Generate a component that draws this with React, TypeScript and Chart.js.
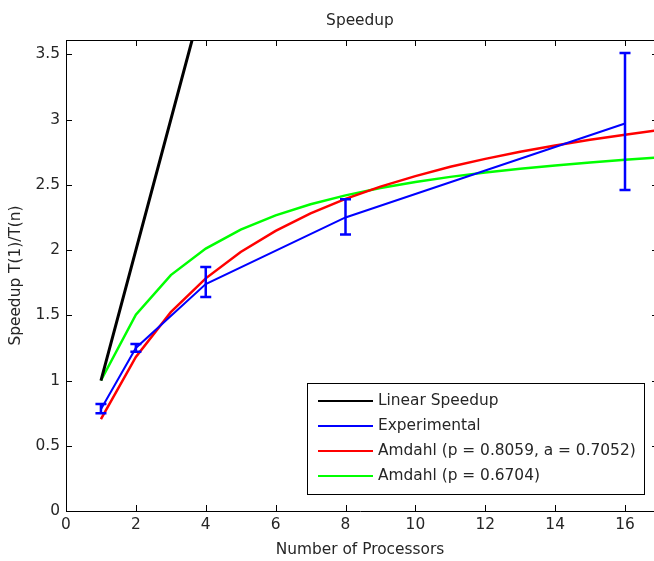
import React, { useEffect, useRef } from "react";
import { Chart, registerables } from "chart.js";

Chart.register(...registerables);

// ---- data ----
const processors = [1, 2, 4, 8, 16];
const linearSpeedup = [1, 2, 4, 8, 16];
const experimental = [0.78, 1.25, 1.74, 2.25, 2.97];
const errLow = [0.75, 1.22, 1.64, 2.12, 2.46];
const errHigh = [0.82, 1.28, 1.87, 2.39, 3.51];

const nRange = [1, 2, 3, 4, 5, 6, 7, 8, 9, 10, 11, 12, 13, 14, 15, 16, 17];
const amdahlFit = [0.705, 1.181, 1.524, 1.783, 1.985, 2.147, 2.281, 2.392, 2.486, 2.567, 2.638, 2.699, 2.754, 2.802, 2.846, 2.884, 2.92];
const amdahlP = [1.0, 1.504, 1.808, 2.011, 2.157, 2.266, 2.351, 2.419, 2.475, 2.521, 2.561, 2.594, 2.624, 2.649, 2.672, 2.692, 2.71];

const seriesLabels = [
  "Linear Speedup",
  "Experimental",
  "Amdahl (p = 0.8059, a = 0.7052)",
  "Amdahl (p = 0.6704)",
];
const seriesColors = ["#000000", "#0000ff", "#ff0000", "#00ff00"];

const xTickValues = [0, 2, 4, 6, 8, 10, 12, 14, 16];
const xTickLabels = ["0", "2", "4", "6", "8", "10", "12", "14", "16"];
const yTickValues = [0, 0.5, 1, 1.5, 2, 2.5, 3, 3.5];
const yTickLabels = ["0", "0.5", "1", "1.5", "2", "2.5", "3", "3.5"];
const xMin = 0;
const xMax = 16.83;
const yMin = 0;
const yMax = 3.61;

const titleText = "Speedup";
const xTitle = "Number of Processors";
const yTitle = "Speedup T(1)/T(n)";

const FONT = '"DejaVu Sans", sans-serif';
const FS = 15.4;
const TEXT_COLOR = "#262626";

const toPoints = (xs: number[], ys: number[]) => xs.map((x, i) => ({ x, y: ys[i] }));
const labelFor = (vals: number[], labs: string[]) => (v: any) => {
  const i = vals.findIndex((t) => Math.abs(t - Number(v)) < 1e-9);
  return i >= 0 ? labs[i] : "";
};

const decorPlugin = {
  id: "matlabDecor",
  afterDatasetsDraw(chart: any) {
    const { ctx, scales } = chart;
    const xs = scales.x;
    const ys = scales.y;
    ctx.save();
    // error bars
    ctx.strokeStyle = seriesColors[1];
    ctx.lineWidth = 2.5;
    ctx.lineCap = "butt";
    processors.forEach((p, i) => {
      const px = xs.getPixelForValue(p);
      const pl = ys.getPixelForValue(errLow[i]);
      const ph = ys.getPixelForValue(errHigh[i]);
      const cap = 5.5;
      ctx.beginPath();
      ctx.moveTo(px, pl);
      ctx.lineTo(px, ph);
      ctx.moveTo(px - cap, pl);
      ctx.lineTo(px + cap, pl);
      ctx.moveTo(px - cap, ph);
      ctx.lineTo(px + cap, ph);
      ctx.stroke();
    });
    ctx.restore();
  },
  afterDraw(chart: any) {
    const { ctx, chartArea, scales } = chart;
    const xs = scales.x;
    const ys = scales.y;
    const { left, right, top, bottom } = chartArea;
    ctx.save();
    // top border
    ctx.strokeStyle = "#000";
    ctx.lineWidth = 1;
    ctx.beginPath();
    ctx.moveTo(left, Math.round(top) + 0.5);
    ctx.lineTo(right, Math.round(top) + 0.5);
    ctx.stroke();
    // inward ticks
    const tl = 6;
    ctx.beginPath();
    yTickValues.forEach((v) => {
      const py = Math.round(ys.getPixelForValue(v)) + 0.5;
      ctx.moveTo(left, py);
      ctx.lineTo(left + tl, py);
      ctx.moveTo(right, py);
      ctx.lineTo(right - 2, py);
    });
    xTickValues.forEach((v) => {
      const px = Math.round(xs.getPixelForValue(v)) + 0.5;
      ctx.moveTo(px, bottom);
      ctx.lineTo(px, bottom - tl);
      ctx.moveTo(px, top);
      ctx.lineTo(px, top + tl);
    });
    ctx.stroke();

    // titles
    ctx.fillStyle = TEXT_COLOR;
    ctx.font = `${FS}px ${FONT}`;
    ctx.textAlign = "center";
    ctx.textBaseline = "middle";
    const cx = (left + right) / 2;
    ctx.fillText(titleText, cx, 21);
    ctx.fillText(xTitle, cx, 550);
    ctx.save();
    ctx.translate(16, (top + bottom) / 2);
    ctx.rotate(-Math.PI / 2);
    ctx.fillText(yTitle, 0, 0);
    ctx.restore();

    // legend
    const bx = 307.5;
    const by = 383.5;
    const bw = 337;
    const bh = 111;
    ctx.fillStyle = "#ffffff";
    ctx.fillRect(bx, by, bw, bh);
    ctx.strokeStyle = "#000";
    ctx.lineWidth = 1;
    ctx.strokeRect(bx, by, bw, bh);
    ctx.textAlign = "left";
    ctx.textBaseline = "middle";
    seriesLabels.forEach((lab, i) => {
      const ry = 401 + i * 25;
      ctx.strokeStyle = seriesColors[i];
      ctx.lineWidth = 2;
      ctx.beginPath();
      ctx.moveTo(318, ry);
      ctx.lineTo(373, ry);
      ctx.stroke();
      ctx.fillStyle = TEXT_COLOR;
      ctx.fillText(lab, 378, ry);
    });
    ctx.restore();
  },
};

export default function App() {
  const ref = useRef<HTMLCanvasElement | null>(null);
  useEffect(() => {
    if (!ref.current) return;
    Chart.defaults.font.family = FONT;
    Chart.defaults.font.size = FS;
    Chart.defaults.color = TEXT_COLOR;
    const chart = new Chart(ref.current, {
      type: "line",
      data: {
        datasets: [
          {
            label: seriesLabels[0],
            data: toPoints(processors, linearSpeedup),
            borderColor: seriesColors[0],
            borderWidth: 3,
          },
          {
            label: seriesLabels[1],
            data: toPoints(processors, experimental),
            borderColor: seriesColors[1],
            borderWidth: 2,
          },
          {
            label: seriesLabels[2],
            data: toPoints(nRange, amdahlFit),
            borderColor: seriesColors[2],
            borderWidth: 2.5,
          },
          {
            label: seriesLabels[3],
            data: toPoints(nRange, amdahlP),
            borderColor: seriesColors[3],
            borderWidth: 2.5,
          },
        ],
      },
      options: {
        responsive: false,
        animation: false,
        events: [],
        elements: {
          point: { radius: 0 },
          line: { tension: 0, fill: false },
        },
        layout: { padding: { top: 40, left: 0, right: 0, bottom: 0 } },
        plugins: {
          legend: { display: false },
          title: { display: false },
          tooltip: { enabled: false },
        },
        scales: {
          x: {
            type: "linear",
            min: xMin,
            max: xMax,
            grid: { display: false, drawTicks: false },
            border: { display: true, color: "#000", width: 1 },
            ticks: {
              stepSize: 2,
              includeBounds: false,
              padding: 5,
              maxRotation: 0,
              autoSkip: false,
              color: TEXT_COLOR,
              font: { size: FS, family: FONT },
              callback: labelFor(xTickValues, xTickLabels),
            },
            afterFit: (s: any) => {
              s.height = 50;
            },
          },
          y: {
            type: "linear",
            min: yMin,
            max: yMax,
            grid: { display: false, drawTicks: false },
            border: { display: true, color: "#000", width: 1 },
            ticks: {
              stepSize: 0.5,
              includeBounds: false,
              padding: 6,
              autoSkip: false,
              color: TEXT_COLOR,
              font: { size: FS, family: FONT },
              callback: labelFor(yTickValues, yTickLabels),
            },
            afterFit: (s: any) => {
              s.width = 66;
            },
          },
        },
      },
      plugins: [decorPlugin],
    } as any);
    return () => chart.destroy();
  }, []);

  return (
    <div style={{ position: "fixed", left: 0, top: 0, width: 654, height: 561, background: "#fff" }}>
      <canvas ref={ref} width={654} height={561} style={{ display: "block", width: 654, height: 561 }} />
    </div>
  );
}
